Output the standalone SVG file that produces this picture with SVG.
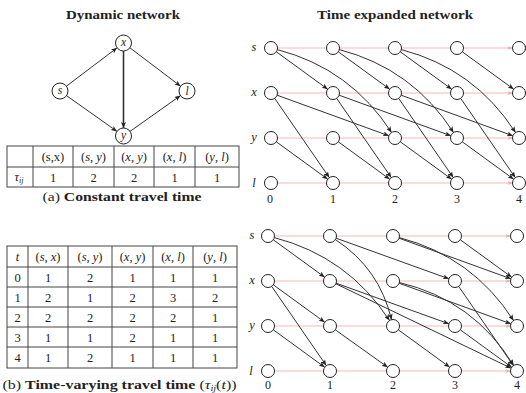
<svg xmlns="http://www.w3.org/2000/svg" width="526" height="393" viewBox="0 0 526 393">
<style>
text{font-family:"Liberation Serif","DejaVu Serif",serif;fill:#222;}
.title{font-weight:bold;font-size:12.5px;text-anchor:middle;}
.cap{font-size:12.5px;text-anchor:middle;}
.b{font-weight:bold;}
.it{font-style:italic;}
.lbl{font-size:11.5px;font-style:italic;text-anchor:middle;}
.rl{font-size:12.5px;font-style:italic;text-anchor:middle;}
.num{font-size:12px;text-anchor:middle;}
.cell{font-size:12.5px;text-anchor:middle;}
.node{fill:#fff;stroke:#222;stroke-width:1;}
.e{fill:none;stroke:#333;stroke-width:1;marker-end:url(#arr);}
.w{fill:none;stroke:#f4b9b9;stroke-width:1;marker-end:url(#parr);}
.grid{fill:none;stroke:#444;stroke-width:1;}
</style>
<defs>
<marker id="arr" markerWidth="6" markerHeight="5" refX="6" refY="2.5" orient="auto" markerUnits="userSpaceOnUse">
<path d="M0,0 L6,2.5 L0,5 L1.6,2.5 z" fill="#222"/>
</marker>
<marker id="parr" markerWidth="5" markerHeight="4" refX="5" refY="2" orient="auto" markerUnits="userSpaceOnUse">
<path d="M0,0 L5,2 L0,4 L1.3,2 z" fill="#f0a8a8"/>
</marker>
</defs>
<rect width="526" height="393" fill="#fff"/>

<!-- ===== Dynamic network ===== -->
<text class="title" x="123" y="19" textLength="114" lengthAdjust="spacingAndGlyphs">Dynamic network</text>
<g id="dyn-connectors">
<line class="e" x1="66.4" y1="86.2" x2="117.1" y2="47.8"/>
<line class="e" x1="66.5" y1="95.6" x2="117" y2="131.4"/>
<line class="e" x1="123.5" y1="51" x2="123.5" y2="128" style="stroke-width:1.6"/>
<line class="e" x1="129.9" y1="47.8" x2="180.6" y2="86.2"/>
<line class="e" x1="130" y1="131.4" x2="180.5" y2="95.6"/>
</g>
<g id="dyn-x"><circle class="node" cx="123.5" cy="43" r="8"/><text class="lbl" x="123.5" y="46">x</text></g>
<g id="dyn-s"><circle class="node" cx="60" cy="91" r="8"/><text class="lbl" x="60" y="94">s</text></g>
<g id="dyn-l"><circle class="node" cx="187" cy="91" r="8"/><text class="lbl" x="187" y="95">l</text></g>
<g id="dyn-y"><circle class="node" cx="123.5" cy="136" r="8"/><text class="lbl" x="123.5" y="138.5">y</text></g>

<!-- Table (a) -->
<g id="table-a">
<rect class="grid" x="7" y="146" width="232" height="41"/>
<line class="grid" x1="7" y1="167" x2="239" y2="167"/>
<line class="grid" x1="33" y1="146" x2="33" y2="187"/>
<line class="grid" x1="73" y1="146" x2="73" y2="187"/>
<line class="grid" x1="114" y1="146" x2="114" y2="187"/>
<line class="grid" x1="154" y1="146" x2="154" y2="187"/>
<line class="grid" x1="195" y1="146" x2="195" y2="187"/>
<text class="cell" x="53" y="161">(s,x)</text>
<text class="cell" x="93.5" y="161">(<tspan class="it">s</tspan>, <tspan class="it">y</tspan>)</text>
<text class="cell" x="134" y="161">(<tspan class="it">x</tspan>, <tspan class="it">y</tspan>)</text>
<text class="cell" x="174.5" y="161">(<tspan class="it">x</tspan>, <tspan class="it">l</tspan>)</text>
<text class="cell" x="217" y="161">(<tspan class="it">y</tspan>, <tspan class="it">l</tspan>)</text>
<text class="cell" x="19" y="181"><tspan class="it">τ</tspan><tspan class="it" font-size="8" dy="2">ij</tspan></text>
<text class="cell" x="53" y="181.5">1</text>
<text class="cell" x="93.5" y="181.5">2</text>
<text class="cell" x="134" y="181.5">2</text>
<text class="cell" x="174.5" y="181.5">1</text>
<text class="cell" x="217" y="181.5">1</text>
</g>
<text class="cap" x="122" y="201" textLength="159" lengthAdjust="spacingAndGlyphs">(a) <tspan class="b">Constant travel time</tspan></text>

<!-- Table (b) -->
<g id="table-b">
<rect class="grid" x="7" y="246" width="230" height="122"/>
<line class="grid" x1="7" y1="267" x2="237" y2="267"/>
<line class="grid" x1="7" y1="287" x2="237" y2="287"/>
<line class="grid" x1="7" y1="307" x2="237" y2="307"/>
<line class="grid" x1="7" y1="327" x2="237" y2="327"/>
<line class="grid" x1="7" y1="347" x2="237" y2="347"/>
<line class="grid" x1="28" y1="246" x2="28" y2="368"/>
<line class="grid" x1="68" y1="246" x2="68" y2="368"/>
<line class="grid" x1="112" y1="246" x2="112" y2="368"/>
<line class="grid" x1="153" y1="246" x2="153" y2="368"/>
<line class="grid" x1="193" y1="246" x2="193" y2="368"/>
<text class="cell it" x="17.5" y="261">t</text>
<text class="cell" x="48" y="261">(<tspan class="it">s</tspan>, <tspan class="it">x</tspan>)</text>
<text class="cell" x="90" y="261">(<tspan class="it">s</tspan>, <tspan class="it">y</tspan>)</text>
<text class="cell" x="132.5" y="261">(<tspan class="it">x</tspan>, <tspan class="it">y</tspan>)</text>
<text class="cell" x="173" y="261">(<tspan class="it">x</tspan>, <tspan class="it">l</tspan>)</text>
<text class="cell" x="215" y="261">(<tspan class="it">y</tspan>, <tspan class="it">l</tspan>)</text>
<text class="cell" x="17.5" y="281.5">0</text><text class="cell" x="48" y="281.5">1</text><text class="cell" x="90" y="281.5">2</text><text class="cell" x="132.5" y="281.5">1</text><text class="cell" x="173" y="281.5">1</text><text class="cell" x="215" y="281.5">1</text>
<text class="cell" x="17.5" y="301.5">1</text><text class="cell" x="48" y="301.5">2</text><text class="cell" x="90" y="301.5">1</text><text class="cell" x="132.5" y="301.5">2</text><text class="cell" x="173" y="301.5">3</text><text class="cell" x="215" y="301.5">2</text>
<text class="cell" x="17.5" y="321.5">2</text><text class="cell" x="48" y="321.5">2</text><text class="cell" x="90" y="321.5">2</text><text class="cell" x="132.5" y="321.5">2</text><text class="cell" x="173" y="321.5">2</text><text class="cell" x="215" y="321.5">1</text>
<text class="cell" x="17.5" y="341.5">3</text><text class="cell" x="48" y="341.5">1</text><text class="cell" x="90" y="341.5">1</text><text class="cell" x="132.5" y="341.5">2</text><text class="cell" x="173" y="341.5">1</text><text class="cell" x="215" y="341.5">1</text>
<text class="cell" x="17.5" y="362">4</text><text class="cell" x="48" y="362">1</text><text class="cell" x="90" y="362">2</text><text class="cell" x="132.5" y="362">1</text><text class="cell" x="173" y="362">1</text><text class="cell" x="215" y="362">1</text>
</g>
<text class="cap" x="119.5" y="389" textLength="234" lengthAdjust="spacingAndGlyphs">(b) <tspan class="b">Time-varying travel time</tspan> (<tspan class="it">τ</tspan><tspan class="it" font-size="8" dy="2">ij</tspan><tspan dy="-2">(</tspan><tspan class="it">t</tspan>))</text>

<!-- ===== Time expanded network (top) ===== -->
<text class="title" x="395" y="19" textLength="156" lengthAdjust="spacingAndGlyphs">Time expanded network</text>
<text class="rl" x="254" y="51">s</text>
<text class="rl" x="254" y="96">x</text>
<text class="rl" x="254" y="141">y</text>
<text class="rl" x="254" y="187">l</text>
<text class="num" x="270" y="203">0</text><text class="num" x="333" y="203">1</text><text class="num" x="395" y="203">2</text><text class="num" x="457" y="203">3</text><text class="num" x="519" y="203">4</text>

<g id="top-connectors">
<path class="w" d="M277.5,48H326.5M339.5,48H388.5M401.5,48H450.5M463.5,48H512.5"/>
<path class="w" d="M277.5,93H326.5M339.5,93H388.5M401.5,93H450.5M463.5,93H512.5"/>
<path class="w" d="M277.5,138H326.5M339.5,138H388.5M401.5,138H450.5M463.5,138H512.5"/>
<path class="w" d="M277.5,183H326.5M339.5,183H388.5M401.5,183H450.5M463.5,183H512.5"/>
<line class="e" x1="276.3" y1="51.8" x2="327.7" y2="89.2"/>
<line class="e" x1="338.3" y1="51.8" x2="389.7" y2="89.2"/>
<line class="e" x1="400.3" y1="51.8" x2="451.7" y2="89.2"/>
<line class="e" x1="462.3" y1="51.8" x2="513.7" y2="89.2"/>
<path class="e" d="M277.3,49.6 Q350.6,68.7 391.5,132.5"/>
<path class="e" d="M339.3,49.6 Q412.6,68.7 453.5,132.5"/>
<path class="e" d="M401.3,49.6 Q474.6,68.7 515.5,132.5"/>
<line class="e" x1="274.7" y1="98.4" x2="329.3" y2="177.6"/>
<line class="e" x1="336.7" y1="98.4" x2="391.3" y2="177.6"/>
<line class="e" x1="398.7" y1="98.4" x2="453.3" y2="177.6"/>
<line class="e" x1="460.7" y1="98.4" x2="515.3" y2="177.6"/>
<line class="e" x1="277.1" y1="95.2" x2="388.9" y2="135.8"/>
<line class="e" x1="339.1" y1="95.2" x2="450.9" y2="135.8"/>
<line class="e" x1="401.1" y1="95.2" x2="512.9" y2="135.8"/>
<line class="e" x1="276.3" y1="141.8" x2="327.7" y2="179.2"/>
<line class="e" x1="338.3" y1="141.8" x2="389.7" y2="179.2"/>
<line class="e" x1="400.3" y1="141.8" x2="451.7" y2="179.2"/>
<line class="e" x1="462.3" y1="141.8" x2="513.7" y2="179.2"/>
</g>
<g id="top-nodes">
<g id="ts0"><circle class="node" cx="271" cy="48" r="6.5"/></g>
<g id="ts1"><circle class="node" cx="333" cy="48" r="6.5"/></g>
<g id="ts2"><circle class="node" cx="395" cy="48" r="6.5"/></g>
<g id="ts3"><circle class="node" cx="457" cy="48" r="6.5"/></g>
<g id="ts4"><circle class="node" cx="519" cy="48" r="6.5"/></g>
<g id="tx0"><circle class="node" cx="271" cy="93" r="6.5"/></g>
<g id="tx1"><circle class="node" cx="333" cy="93" r="6.5"/></g>
<g id="tx2"><circle class="node" cx="395" cy="93" r="6.5"/></g>
<g id="tx3"><circle class="node" cx="457" cy="93" r="6.5"/></g>
<g id="tx4"><circle class="node" cx="519" cy="93" r="6.5"/></g>
<g id="ty0"><circle class="node" cx="271" cy="138" r="6.5"/></g>
<g id="ty1"><circle class="node" cx="333" cy="138" r="6.5"/></g>
<g id="ty2"><circle class="node" cx="395" cy="138" r="6.5"/></g>
<g id="ty3"><circle class="node" cx="457" cy="138" r="6.5"/></g>
<g id="ty4"><circle class="node" cx="519" cy="138" r="6.5"/></g>
<g id="tl0"><circle class="node" cx="271" cy="183" r="6.5"/></g>
<g id="tl1"><circle class="node" cx="333" cy="183" r="6.5"/></g>
<g id="tl2"><circle class="node" cx="395" cy="183" r="6.5"/></g>
<g id="tl3"><circle class="node" cx="457" cy="183" r="6.5"/></g>
<g id="tl4"><circle class="node" cx="519" cy="183" r="6.5"/></g>
</g>

<!-- ===== Time expanded network (bottom) ===== -->
<text class="rl" x="252" y="239">s</text>
<text class="rl" x="252" y="284">x</text>
<text class="rl" x="252" y="329">y</text>
<text class="rl" x="251" y="375">l</text>
<text class="num" x="268" y="389">0</text><text class="num" x="330" y="389">1</text><text class="num" x="393" y="389">2</text><text class="num" x="455" y="389">3</text><text class="num" x="517" y="389">4</text>

<g id="bottom-connectors">
<path class="w" d="M274.5,236H323.5M336.5,236H386.5M399.5,236H448.5M461.5,236H510.5"/>
<path class="w" d="M274.5,281H323.5M336.5,281H386.5M399.5,281H448.5M461.5,281H510.5"/>
<path class="w" d="M274.5,326H323.5M336.5,326H386.5M399.5,326H448.5M461.5,326H510.5"/>
<path class="w" d="M274.5,371H323.5M336.5,371H386.5M399.5,371H448.5M461.5,371H510.5"/>
<line class="e" x1="273.3" y1="239.8" x2="324.7" y2="277.2"/>
<path class="e" d="M274.3,237.6 Q348,256.7 389.5,320.5"/>
<line class="e" x1="273.3" y1="284.8" x2="324.7" y2="322.2"/>
<line class="e" x1="271.7" y1="286.4" x2="326.3" y2="365.6"/>
<line class="e" x1="273.3" y1="329.8" x2="324.7" y2="367.2"/>
<line class="e" x1="336.1" y1="238.2" x2="448.9" y2="278.8"/>
<path class="e" d="M335.4,239.6 Q379.5,268.4 391.5,319.7"/>
<line class="e" x1="336.1" y1="283.2" x2="448.9" y2="323.8"/>
<line class="e" x1="335.9" y1="283.8" x2="511.1" y2="368.2"/>
<line class="e" x1="335.3" y1="329.8" x2="387.7" y2="367.2"/>
<line class="e" x1="399.1" y1="238.2" x2="510.9" y2="278.8"/>
<path class="e" d="M399.3,237.6 Q472.6,256.7 513.5,320.5"/>
<line class="e" x1="399.1" y1="283.2" x2="510.9" y2="323.8"/>
<path class="e" d="M399.3,282.5 Q473.8,300.1 513.6,365.4"/>
<line class="e" x1="398.3" y1="329.8" x2="449.7" y2="367.2"/>
<line class="e" x1="460.3" y1="239.8" x2="511.7" y2="277.2"/>
<line class="e" x1="458.7" y1="286.4" x2="513.3" y2="365.6"/>
<line class="e" x1="460.3" y1="329.8" x2="511.7" y2="367.2"/>
</g>
<g id="bottom-nodes">
<g id="bs0"><circle class="node" cx="268" cy="236" r="6.5"/></g>
<g id="bs1"><circle class="node" cx="330" cy="236" r="6.5"/></g>
<g id="bs2"><circle class="node" cx="393" cy="236" r="6.5"/></g>
<g id="bs3"><circle class="node" cx="455" cy="236" r="6.5"/></g>
<g id="bs4"><circle class="node" cx="517" cy="236" r="6.5"/></g>
<g id="bx0"><circle class="node" cx="268" cy="281" r="6.5"/></g>
<g id="bx1"><circle class="node" cx="330" cy="281" r="6.5"/></g>
<g id="bx2"><circle class="node" cx="393" cy="281" r="6.5"/></g>
<g id="bx3"><circle class="node" cx="455" cy="281" r="6.5"/></g>
<g id="bx4"><circle class="node" cx="517" cy="281" r="6.5"/></g>
<g id="by0"><circle class="node" cx="268" cy="326" r="6.5"/></g>
<g id="by1"><circle class="node" cx="330" cy="326" r="6.5"/></g>
<g id="by2"><circle class="node" cx="393" cy="326" r="6.5"/></g>
<g id="by3"><circle class="node" cx="455" cy="326" r="6.5"/></g>
<g id="by4"><circle class="node" cx="517" cy="326" r="6.5"/></g>
<g id="bl0"><circle class="node" cx="268" cy="371" r="6.5"/></g>
<g id="bl1"><circle class="node" cx="330" cy="371" r="6.5"/></g>
<g id="bl2"><circle class="node" cx="393" cy="371" r="6.5"/></g>
<g id="bl3"><circle class="node" cx="455" cy="371" r="6.5"/></g>
<g id="bl4"><circle class="node" cx="517" cy="371" r="6.5"/></g>
</g>
</svg>
